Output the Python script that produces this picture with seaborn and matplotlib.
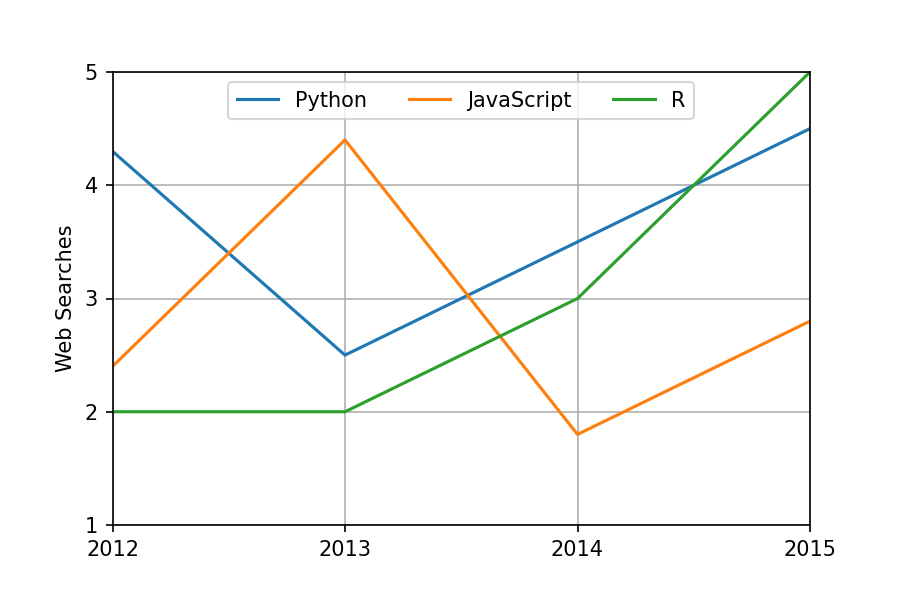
import pandas as pd
import seaborn as sns
import matplotlib.pyplot as plt

years = [2012, 2013, 2014, 2015]
python = [4.3, 2.5, 3.5, 4.5]
javascript = [2.4, 4.4, 1.8, 2.8]
r_lang = [2, 2, 3, 5]

df = pd.DataFrame({'Year': years, 'Python': python, 'JavaScript': javascript, 'R': r_lang})
long = df.melt(id_vars='Year', var_name='Language', value_name='Searches')

fig, ax = plt.subplots(figsize=(6, 4), dpi=150)
fig.subplots_adjust(left=0.125, right=0.9, top=0.88, bottom=0.125)

sns.lineplot(data=long, x='Year', y='Searches', hue='Language',
             palette=['#1f77b4', '#ff7f0e', '#2ca02c'], linewidth=1.5, ax=ax)

ax.set_xlim(2012, 2015)
ax.set_ylim(1, 5)
ax.set_xticks(years)
ax.set_xticklabels([str(y) for y in years])
ax.set_yticks([1, 2, 3, 4, 5])
ax.set_xlabel('')
ax.set_ylabel('Web Searches')
ax.grid(True)
ax.set_axisbelow(True)
ax.legend(loc='upper center', ncol=3, title=None)

plt.savefig('out.png')
